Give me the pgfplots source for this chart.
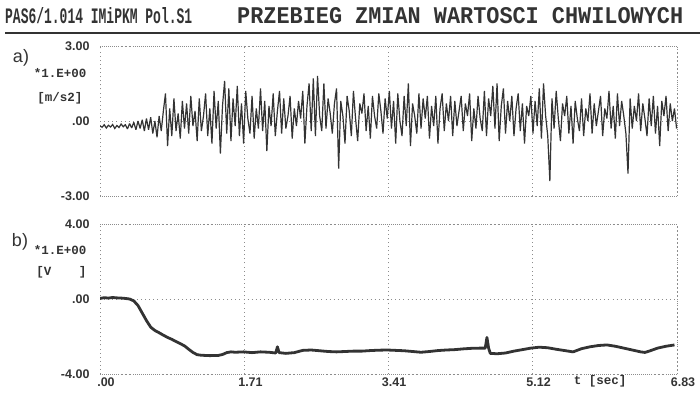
\documentclass[border=0pt]{standalone}
\usepackage{fontspec}
\setmainfont{Liberation Sans}
\newfontfamily\mono{Liberation Mono}
\usepackage{graphicx}
\usepackage{pgfplots}
\pgfplotsset{compat=1.18}
\definecolor{ink}{HTML}{333333}
\definecolor{gridc}{HTML}{8C8C8C}

\pgfplotstableread{
t v
0.000 -0.20
0.025 -0.25
0.050 -0.15
0.075 -0.28
0.100 -0.17
0.125 -0.24
0.150 -0.14
0.175 -0.30
0.200 -0.18
0.225 -0.26
0.250 -0.12
0.275 -0.23
0.300 -0.15
0.325 -0.32
0.350 -0.10
0.375 -0.28
0.400 -0.05
0.425 -0.35
0.450 0.00
0.475 -0.30
0.500 0.05
0.525 -0.40
0.550 0.10
0.575 -0.35
0.600 0.15
0.625 -0.50
0.650 0.00
0.675 -0.65
0.700 0.20
0.725 -0.40
0.750 0.40
0.775 1.10
0.800 -1.00
0.825 0.50
0.850 -0.60
0.875 0.90
0.900 -0.40
0.925 0.30
0.950 -0.70
0.975 0.80
1.000 -0.30
1.025 0.70
1.050 -0.50
1.075 1.00
1.100 -0.20
1.125 0.40
1.150 -0.80
1.175 0.90
1.200 -0.40
1.225 0.20
1.250 1.10
1.275 -0.60
1.300 0.50
1.325 -0.90
1.350 1.20
1.375 -0.30
1.400 0.80
1.425 -1.30
1.450 0.60
1.475 1.60
1.500 -0.50
1.525 1.30
1.550 -0.80
1.575 0.90
1.600 -0.20
1.625 1.40
1.650 -0.60
1.675 0.70
1.700 -0.90
1.725 1.20
1.750 0.10
1.775 -0.50
1.800 1.00
1.825 -0.70
1.850 0.50
1.875 -0.30
1.900 1.30
1.925 -0.40
1.950 0.80
1.975 -1.20
2.000 0.60
2.025 -0.20
2.050 1.10
2.075 -0.60
2.100 0.40
2.125 1.20
2.150 -0.50
2.175 0.90
2.200 -0.30
2.225 0.20
2.250 1.00
2.275 -0.70
2.300 0.50
2.325 -0.20
2.350 0.80
2.375 0.10
2.400 1.20
2.425 -0.90
2.450 0.60
2.475 1.50
2.500 -0.40
2.525 1.70
2.550 -0.60
2.575 1.80
2.600 0.20
2.625 -0.40
2.650 1.50
2.675 -0.30
2.700 0.90
2.725 0.30
2.750 -0.50
2.775 0.70
2.800 1.30
2.825 -1.90
2.850 0.80
2.875 0.20
2.900 -0.90
2.925 1.00
2.950 0.40
2.975 -0.60
3.000 1.20
3.025 0.10
3.050 -0.80
3.075 0.70
3.100 0.30
3.125 1.10
3.150 -0.40
3.175 0.60
3.200 -0.70
3.225 1.00
3.250 0.20
3.275 -0.30
3.300 1.10
3.325 0.40
3.350 -0.50
3.375 0.90
3.400 0.10
3.425 1.20
3.450 -0.30
3.475 0.80
3.500 -0.90
3.525 1.10
3.550 0.00
3.575 -0.60
3.600 1.00
3.625 -0.20
3.650 1.50
3.675 -1.00
3.700 0.70
3.725 0.20
3.750 -0.50
3.775 1.10
3.800 -0.30
3.825 0.90
3.850 0.10
3.875 1.00
3.900 -0.70
3.925 0.60
3.950 -0.20
3.975 1.00
4.000 -0.90
4.025 0.50
4.050 1.10
4.075 -0.40
4.100 0.70
4.125 0.00
4.150 1.00
4.175 -0.60
4.200 0.80
4.225 -0.20
4.250 0.40
4.275 1.00
4.300 -0.40
4.325 0.70
4.350 0.20
4.375 1.10
4.400 -0.80
4.425 0.50
4.450 -0.30
4.475 1.00
4.500 0.10
4.525 -0.40
4.550 1.20
4.575 -0.60
4.600 0.90
4.625 0.20
4.650 1.40
4.675 -0.30
4.700 1.50
4.725 -0.80
4.750 0.60
4.775 1.30
4.800 -0.50
4.825 0.80
4.850 0.00
4.875 1.00
4.900 -0.60
4.925 0.50
4.950 1.10
4.975 -0.40
5.000 0.70
5.025 -0.90
5.050 0.60
5.075 0.20
5.100 1.00
5.125 -0.50
5.150 0.80
5.175 -0.20
5.200 1.30
5.225 -0.70
5.250 1.50
5.275 0.20
5.300 -0.60
5.325 -2.40
5.350 0.90
5.375 -0.30
5.400 1.20
5.425 0.10
5.450 -0.80
5.475 0.70
5.500 0.20
5.525 1.00
5.550 -0.50
5.575 0.60
5.600 -0.90
5.625 0.80
5.650 0.10
5.675 -0.40
5.700 0.90
5.725 -0.60
5.750 0.50
5.775 0.00
5.800 1.10
5.825 -0.50
5.850 0.70
5.875 -0.20
5.900 0.40
5.925 1.00
5.950 -0.60
5.975 0.50
6.000 0.10
6.025 1.20
6.050 -0.30
6.075 0.60
6.100 -0.70
6.125 1.10
6.150 -0.20
6.175 0.80
6.200 0.20
6.225 -0.50
6.250 -2.10
6.275 0.90
6.300 -0.30
6.325 0.60
6.350 0.00
6.375 1.10
6.400 -0.40
6.425 0.70
6.450 0.10
6.475 -0.60
6.500 0.90
6.525 -0.20
6.550 1.00
6.575 -0.50
6.600 0.60
6.625 -1.00
6.650 0.80
6.675 0.20
6.700 1.00
6.725 -0.40
6.750 0.70
6.775 0.00
6.800 0.50
6.825 -0.30
}\accel

\pgfplotstableread{
t v
0.00 0.03
0.05 0.07
0.10 0.05
0.15 0.08
0.20 0.06
0.25 0.05
0.30 0.03
0.35 0.00
0.40 -0.10
0.45 -0.35
0.50 -0.75
0.55 -1.15
0.60 -1.50
0.65 -1.68
0.70 -1.80
0.75 -1.93
0.80 -2.05
0.85 -2.15
0.90 -2.27
0.95 -2.38
1.00 -2.50
1.05 -2.68
1.10 -2.85
1.15 -2.97
1.20 -3.00
1.30 -3.02
1.40 -3.01
1.45 -2.96
1.50 -2.86
1.55 -2.82
1.60 -2.84
1.70 -2.82
1.80 -2.86
1.90 -2.82
2.00 -2.84
2.08 -2.88
2.10 -2.55
2.12 -2.86
2.20 -2.90
2.30 -2.86
2.40 -2.74
2.50 -2.72
2.60 -2.76
2.70 -2.80
2.80 -2.82
2.90 -2.80
3.00 -2.78
3.10 -2.78
3.20 -2.75
3.30 -2.73
3.40 -2.72
3.50 -2.74
3.60 -2.76
3.70 -2.80
3.80 -2.84
3.90 -2.80
4.00 -2.75
4.10 -2.72
4.20 -2.70
4.30 -2.66
4.40 -2.63
4.50 -2.62
4.56 -2.62
4.58 -2.05
4.60 -2.62
4.62 -2.90
4.70 -2.92
4.80 -2.88
4.90 -2.78
5.00 -2.70
5.10 -2.62
5.20 -2.57
5.30 -2.60
5.40 -2.68
5.50 -2.75
5.60 -2.82
5.70 -2.65
5.80 -2.55
5.90 -2.48
6.00 -2.45
6.10 -2.52
6.20 -2.62
6.30 -2.72
6.40 -2.82
6.45 -2.85
6.50 -2.78
6.60 -2.62
6.70 -2.52
6.80 -2.45
}\volt

\pgfplotsset{
  panel/.style={
    scale only axis, width=577pt, height=150pt,
    xmin=0, xmax=6.83, xtick={0,1.71,3.41,5.12,6.83},
    axis line style={gridc, line width=0.9pt, dash pattern=on 0.9pt off 3.2pt},
    grid style={gridc, line width=0.9pt, dash pattern=on 0.9pt off 3.2pt},
    xmajorgrids, ymajorgrids,
    tick style={draw=none},
    /pgf/number format/assume math mode=true,
    ticklabel style={font=\fontsize{12.5}{12.5}\selectfont\bfseries, text=ink},
    yticklabel style={xshift=-7pt},
  }
}

\begin{document}
\begin{tikzpicture}[x=1pt,y=1pt]
\path[use as bounding box] (0,0) rectangle (700,399);

\begin{axis}[panel, at={(100pt,203pt)}, anchor=south west,
  ymin=-3, ymax=3, ytick={-3,0,3}, yticklabels={-3.00,.00,3.00},
  xticklabels={}]
\addplot[ink, line width=1.2pt, line join=miter, miter limit=2] table[x=t, y=v] {\accel};
\end{axis}

\begin{axis}[panel, at={(100pt,25pt)}, anchor=south west,
  ymin=-4, ymax=4, ytick={-4,0,4}, yticklabels={-4.00,.00,4.00},
  xticklabels={.00,1.71,3.41,5.12,6.83},
  xticklabel style={xshift=6pt}]
\addplot[ink, line width=2.8pt, line join=round] table[x=t, y=v] {\volt};
\end{axis}

% header
\node[anchor=south west, inner sep=0, text=ink] at (5,375) {\resizebox{187pt}{16pt}{\mono\bfseries PAS6/1.014 IMiPKM Pol.S1}};
\node[anchor=south west, inner sep=0, text=ink] at (237,375) {\resizebox{446pt}{16pt}{\mono\bfseries PRZEBIEG ZMIAN WARTOSCI CHWILOWYCH}};
\draw[ink, line width=1.8pt] (5,366) -- (700,366);

% panel labels
\node[text=ink, font=\fontsize{18}{18}\selectfont] at (21,341) {a)};
\node[anchor=east, text=ink, font=\mono\fontsize{12.5}{12.5}\selectfont\bfseries] at (90,326) {*1.E+00};
\node[anchor=east, text=ink, font=\mono\fontsize{12.5}{12.5}\selectfont\bfseries] at (86,301) {[m/s2]};
\node[text=ink, font=\fontsize{18}{18}\selectfont] at (20,157) {b)};
\node[anchor=east, text=ink, font=\mono\fontsize{12.5}{12.5}\selectfont\bfseries] at (90,149) {*1.E+00};
\node[anchor=east, text=ink, font=\mono\fontsize{12.5}{12.5}\selectfont\bfseries] at (90,127) {[V\hspace{2.2em}]};
\node[text=ink, font=\mono\fontsize{12.5}{12.5}\selectfont\bfseries] at (600,18) {t [sec]};
\end{tikzpicture}
\end{document}
